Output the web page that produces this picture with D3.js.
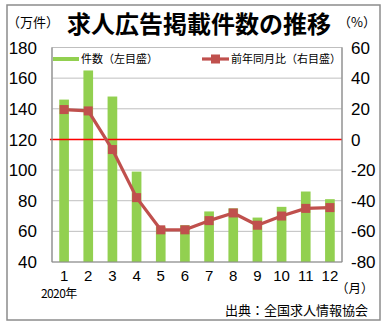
<!DOCTYPE html>
<html>
<head>
<meta charset="utf-8">
<script src="https://cdn.jsdelivr.net/npm/d3@7/dist/d3.min.js"></script>
<style>
  html, body { margin: 0; padding: 0; background: #fff; }
  svg { display: block; }
  .jp { font-family: "Noto Sans CJK JP", "Noto Sans", sans-serif; }
  .num { font-family: "Liberation Sans", Arial, sans-serif; }
</style>
</head>
<body>
<svg id="chart" width="389" height="324"></svg>
<script>
// Months of 2020
const months = ["1","2","3","4","5","6","7","8","9","10","11","12"];
// Job ad listings (10,000 items), left axis
const listings = [146, 165, 148, 99, 63, 64, 73, 75, 69, 76, 86, 81];
// Year-over-year change (%), right axis
const yoyChange = [19.5, 18.6, -6.6, -38, -59, -59, -53, -48, -56, -50, -45, -44.5];
// Axis ticks
const leftTicks = [40, 60, 80, 100, 120, 140, 160, 180];
const rightTicks = [-80, -60, -40, -20, 0, 20, 40, 60];

const svg = d3.select("#chart");
const plot = { left: 52, right: 342, top: 47.5, bottom: 262 };

const x = d3.scaleBand().domain(months)
  .range([plot.left, plot.right]).paddingInner(0.6).paddingOuter(0.3);
const yL = d3.scaleLinear().domain([40, 180]).range([plot.bottom, plot.top]);
const yR = d3.scaleLinear().domain([-80, 60]).range([plot.bottom, plot.top]);

const gray = "#8c8c8c";
const green = "#92D050";
const red = "#C0504D";

// outer frame
svg.append("rect").attr("x", 7).attr("y", 5).attr("width", 373).attr("height", 315)
  .attr("fill", "none").attr("stroke", gray).attr("stroke-width", 1.5);

// gridlines
svg.append("g").selectAll("line").data(leftTicks.filter(d => d > 40 && d < 180)).join("line")
  .attr("x1", plot.left).attr("x2", plot.right)
  .attr("y1", d => yL(d)).attr("y2", d => yL(d))
  .attr("stroke", "#bfbfbf").attr("stroke-width", 1);

// plot area border
svg.append("rect").attr("x", plot.left).attr("y", plot.top)
  .attr("width", plot.right - plot.left).attr("height", plot.bottom - plot.top)
  .attr("fill", "none").attr("stroke", "#bfbfbf").attr("stroke-width", 1);

// bars
svg.append("g").selectAll("rect").data(listings).join("rect")
  .attr("x", (d, i) => x(months[i]))
  .attr("width", x.bandwidth())
  .attr("y", d => yL(d))
  .attr("height", d => yL(40) - yL(d))
  .attr("fill", green);

// zero line of right axis
svg.append("line")
  .attr("x1", plot.left - 2).attr("x2", plot.right)
  .attr("y1", yR(0)).attr("y2", yR(0))
  .attr("stroke", "#ff0000").attr("stroke-width", 1.5);

// axis lines
svg.append("line").attr("x1", plot.left).attr("x2", plot.left)
  .attr("y1", plot.top).attr("y2", plot.bottom).attr("stroke", gray).attr("stroke-width", 1.2);
svg.append("line").attr("x1", plot.right).attr("x2", plot.right)
  .attr("y1", plot.top).attr("y2", plot.bottom).attr("stroke", gray).attr("stroke-width", 1.2);
svg.append("line").attr("x1", plot.left).attr("x2", plot.right)
  .attr("y1", plot.bottom).attr("y2", plot.bottom).attr("stroke", gray).attr("stroke-width", 1.2);

// YoY line
const cx = i => x(months[i]) + x.bandwidth() / 2;
const line = d3.line().x((d, i) => cx(i)).y(d => yR(d));
svg.append("path").datum(yoyChange).attr("d", line)
  .attr("fill", "none").attr("stroke", red).attr("stroke-width", 3.2)
  .attr("stroke-linejoin", "round");
svg.append("g").selectAll("rect").data(yoyChange).join("rect")
  .attr("x", (d, i) => cx(i) - 4.5).attr("y", d => yR(d) - 4.5)
  .attr("width", 9).attr("height", 9).attr("fill", red);

// left tick labels
svg.append("g").selectAll("text").data(leftTicks).join("text")
  .attr("class", "num").attr("x", 37).attr("y", d => yL(d))
  .attr("dy", "0.36em").attr("text-anchor", "end")
  .attr("font-size", 17).attr("fill", "#000").text(d => d);

// right tick labels
svg.append("g").selectAll("text").data(rightTicks).join("text")
  .attr("class", "num").attr("x", 351).attr("y", d => yR(d))
  .attr("dy", "0.36em").attr("text-anchor", "start")
  .attr("font-size", 17).attr("fill", "#000").text(d => d);

// x labels
svg.append("g").selectAll("text").data(months).join("text")
  .attr("class", "num").attr("x", d => x(d) + x.bandwidth() / 2).attr("y", 281)
  .attr("text-anchor", "middle").attr("font-size", 15).attr("fill", "#000").text(d => d);

// title and unit labels
svg.append("text").attr("class", "jp").attr("x", 199).attr("y", 33)
  .attr("text-anchor", "middle").attr("font-size", 24).attr("font-weight", "bold")
  .attr("fill", "#000").text("求人広告掲載件数の推移");
svg.append("text").attr("class", "jp").attr("x", 7).attr("y", 27)
  .attr("font-size", 13).attr("fill", "#000").text("（万件）");
svg.append("text").attr("class", "jp").attr("x", 338).attr("y", 27)
  .attr("font-size", 13).attr("fill", "#000").text("（%）");
svg.append("text").attr("class", "jp").attr("x", 336).attr("y", 293)
  .attr("font-size", 12.5).attr("fill", "#000").text("（月）");
svg.append("text").attr("class", "jp").attr("x", 41).attr("y", 297.5)
  .attr("font-size", 12).attr("fill", "#000").attr("letter-spacing", -0.6).text("2020年");
svg.append("text").attr("class", "jp").attr("x", 368).attr("y", 315)
  .attr("text-anchor", "end").attr("font-size", 13).attr("fill", "#000").text("出典：全国求人情報協会");

// legend
const legY = 59;
svg.append("line").attr("x1", 53).attr("x2", 79).attr("y1", legY).attr("y2", legY)
  .attr("stroke", green).attr("stroke-width", 4);
svg.append("text").attr("class", "jp").attr("x", 81).attr("y", legY).attr("dy", "0.36em")
  .attr("font-size", 11).attr("fill", "#000").text("件数（左目盛）");
svg.append("line").attr("x1", 202).attr("x2", 229).attr("y1", legY).attr("y2", legY)
  .attr("stroke", red).attr("stroke-width", 3.2);
svg.append("rect").attr("x", 211).attr("y", legY - 4.5).attr("width", 9).attr("height", 9)
  .attr("fill", red);
svg.append("text").attr("class", "jp").attr("x", 231).attr("y", legY).attr("dy", "0.36em")
  .attr("font-size", 11).attr("fill", "#000").text("前年同月比（右目盛）");
</script>
</body>
</html>
